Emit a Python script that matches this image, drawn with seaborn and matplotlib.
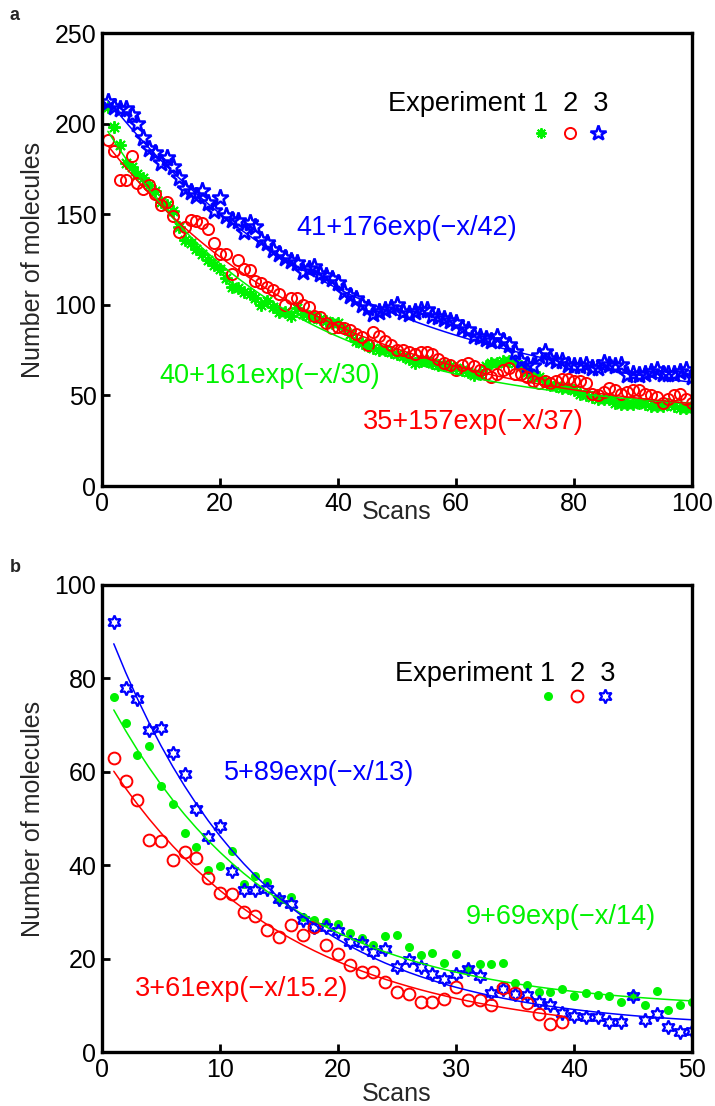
import numpy as np
import pandas as pd
import matplotlib
matplotlib.use("Agg")
import matplotlib.pyplot as plt
import seaborn as sns
from matplotlib.lines import Line2D

# ---------------- data ----------------
scans_a = list(range(1, 101))
exp1_a = [209, 198, 188, 178, 176, 172, 170, 166, 163, 157, 155, 152, 143, 136, 134, 131, 128, 125, 122, 120,
          115, 110, 109, 107, 106, 104, 100, 102, 99, 96, 96, 94, 98, 95, 94, 93, 92, 91, 90, 90,
          87, 84, 80, 79, 77, 76, 75, 75, 74, 73, 72, 70, 68, 69, 69, 68, 67, 67, 66, 65,
          64, 63, 61, 62, 66, 68, 68, 69, 69, 68, 66, 63, 60, 60, 58, 56, 55, 54, 54, 53,
          51, 50, 49, 48, 48, 48, 46, 45, 45, 45, 46, 45, 44, 44, 44, 45, 44, 43, 43, 43]
exp2_a = [191, 185, 169, 169, 182, 167, 164, 166, 161, 155, 157, 149, 140, 143, 147, 146, 145, 142, 134, 128,
          128, 117, 125, 120, 119, 113, 112, 110, 108, 106, 100, 104, 104, 100, 99, 94, 93, 90, 87, 88,
          87, 86, 84, 82, 78, 85, 83, 80, 78, 75, 75, 74, 73, 74, 74, 73, 70, 68, 67, 64,
          67, 68, 66, 64, 62, 60, 62, 64, 65, 62, 62, 60, 58, 57, 58, 57, 58, 59, 59, 58,
          58, 57, 51, 50, 52, 54, 53, 51, 52, 53, 53, 51, 50, 49, 46, 48, 50, 51, 48, 46]
exp3_a = [212, 209, 208, 208, 205, 200, 192, 186, 184, 178, 181, 176, 170, 164, 162, 160, 163, 156, 152, 159,
          149, 147, 146, 140, 145, 143, 136, 134, 130, 128, 126, 124, 123, 118, 120, 121, 117, 116, 114, 112,
          107, 105, 103, 100, 98, 95, 96, 97, 98, 100, 96, 95, 96, 97, 97, 94, 93, 92, 91, 90,
          87, 86, 83, 82, 81, 80, 82, 80, 78, 74, 69, 67, 66, 72, 74, 70, 69, 69, 67, 66,
          66, 67, 65, 65, 68, 67, 66, 67, 61, 62, 61, 62, 63, 64, 62, 62, 62, 63, 64, 60]

scans_b = list(range(1, 51))
scans_b_red = list(range(1, 40))
exp1_b = [76, 70.5, 63.5, 65.5, 57, 53, 46.8, 44, 38.9, 39.8, 43, 36, 37.7, 36.5, 32.5, 33.2, 29, 28.3, 27.8, 27.4,
          25.5, 24.4, 23, 24.8, 25.1, 22.4, 20.8, 21.3, 19.1, 21, 17.8, 18.8, 18.8, 19, 14.7, 14.3, 12.9, 12.8, 13.4, 12,
          12.6, 12.3, 12, 10.8, 12.3, 10, 13.1, 8.9, 10, 10.6]
exp2_b = [62.9, 58.1, 54, 45.4, 45.1, 41.1, 42.9, 41.5, 37.2, 34.1, 33.8, 30, 29.1, 26.1, 24.7, 27.2, 25.1, 26.7, 22.9, 21,
          18.6, 17.2, 17.2, 15, 12.8, 12.4, 10.8, 10.8, 11.3, 13.9, 11.1, 11.1, 10, 13.6, 12.6, 10.4, 8.1, 6.1, 6.5]
exp3_b = [92, 77.9, 75.5, 69, 69.3, 64, 59.5, 52, 46, 48.5, 38.8, 34.7, 34.6, 34.8, 32.7, 31.6, 28.3, 26.8, 26.7, 25.9,
          23.5, 23.3, 21.5, 22, 18.2, 19.7, 18.3, 16.7, 15.6, 16.7, 17.7, 16.3, 12.7, 13.4, 12.4, 12.2, 10.8, 10, 8.3, 7.7,
          7.6, 7.6, 6.5, 6.5, 12, 6.8, 8.1, 5.3, 4.3, 4.6]

# fit parameters (offset, amplitude, decay) as printed on the chart
fit_a = {"1": (40, 161, 30), "2": (35, 157, 37), "3": (41, 176, 42)}
fit_b = {"1": (9, 69, 14), "2": (3, 61, 15.2), "3": (5, 89, 13)}
fit_labels_a = {"1": "40+161exp(\u2212x/30)", "2": "35+157exp(\u2212x/37)", "3": "41+176exp(\u2212x/42)"}
fit_labels_b = {"1": "9+69exp(\u2212x/14)", "2": "3+61exp(\u2212x/15.2)", "3": "5+89exp(\u2212x/13)"}
legend_text = "Experiment 1  2  3"

colors = {"1": (0, 0.95, 0), "2": (1, 0, 0), "3": (0, 0, 1)}

hexagram = (6, 1, 0)

# ---------------- style ----------------
sns.set_theme(style="white")
plt.rcParams["font.family"] = ["Liberation Sans", "DejaVu Sans"]
FS = 18      # ticks / axis labels
FT = 19.5    # annotations

fig = plt.figure(figsize=(7.15, 11.06), dpi=100)
axa = fig.add_axes([102 / 715, 1 - 486 / 1106, 590 / 715, 453 / 1106])
axb = fig.add_axes([102 / 715, 1 - 1052 / 1106, 590 / 715, 467 / 1106])


def fitcurve(x, p):
    x = np.asarray(x, dtype=float)
    return p[0] + p[1] * np.exp(-x / p[2])


def pts(ax, x, y, **kw):
    df = pd.DataFrame({"x": x, "y": y})
    sns.lineplot(data=df, x="x", y="y", ax=ax, estimator=None, sort=False,
                 linestyle="", **kw)


def line(ax, x, y, c):
    df = pd.DataFrame({"x": x, "y": y})
    sns.lineplot(data=df, x="x", y="y", ax=ax, estimator=None, sort=False,
                 color=c, linewidth=1.1)


# ---- panel a ----
mk_a = {
    "1": dict(marker=(8, 2, 0), markersize=9, markeredgewidth=1.4, markeredgecolor=colors["1"], color=colors["1"]),
    "2": dict(marker="o", markersize=8, markeredgewidth=1.4, markerfacecolor="none", markeredgecolor=colors["2"], color=colors["2"]),
    "3": dict(marker="*", markersize=12.5, markeredgewidth=1.8, markerfacecolor="none", markeredgecolor=colors["3"], color=colors["3"]),
}
pts(axa, scans_a, exp1_a, **mk_a["1"])
pts(axa, scans_a, exp3_a, **mk_a["3"])
pts(axa, scans_a, exp2_a, **mk_a["2"])
for k in ["1", "2", "3"]:
    line(axa, scans_a, fitcurve(scans_a, fit_a[k]), colors[k])

axa.text(32.9, 142.4, fit_labels_a["3"], color=colors["3"], fontsize=FT, va="center", ha="left")
axa.text(9.8, 60.7, fit_labels_a["1"], color=colors["1"], fontsize=FT, va="center", ha="left")
axa.text(44.2, 35.3, fit_labels_a["2"], color=colors["2"], fontsize=FT, va="center", ha="left")
axa.text(48.5, 210.8, legend_text, color="black", fontsize=FT, va="center", ha="left")

axa.set_xlim(0, 100)
axa.set_ylim(0, 250)
axa.set_xticks([0, 20, 40, 60, 80, 100])
axa.set_yticks([0, 50, 100, 150, 200, 250])

# ---- panel b ----
mk_b = {
    "1": dict(marker="o", markersize=6.5, markeredgewidth=0, markerfacecolor=colors["1"], color=colors["1"]),
    "2": dict(marker="o", markersize=8.5, markeredgewidth=1.4, markerfacecolor="none", markeredgecolor=colors["2"], color=colors["2"]),
    "3": dict(marker=hexagram, markersize=10, markeredgewidth=1.6, markerfacecolor="none", markeredgecolor=colors["3"], color=colors["3"]),
}
pts(axb, scans_b, exp1_b, **mk_b["1"])
pts(axb, scans_b, exp3_b, **mk_b["3"])
pts(axb, scans_b_red, exp2_b, **mk_b["2"])
line(axb, scans_b, fitcurve(scans_b, fit_b["1"]), colors["1"])
line(axb, scans_b_red, fitcurve(scans_b_red, fit_b["2"]), colors["2"])
line(axb, scans_b, fitcurve(scans_b, fit_b["3"]), colors["3"])

axb.text(10.3, 59.7, fit_labels_b["3"], color=colors["3"], fontsize=FT, va="center", ha="left")
axb.text(30.8, 28.9, fit_labels_b["1"], color=colors["1"], fontsize=FT, va="center", ha="left")
axb.text(2.8, 13.5, fit_labels_b["2"], color=colors["2"], fontsize=FT, va="center", ha="left")
axb.text(24.8, 80.9, legend_text, color="black", fontsize=FT, va="center", ha="left")

axb.set_xlim(0, 50)
axb.set_ylim(0, 100)
axb.set_xticks([0, 10, 20, 30, 40, 50])
axb.set_yticks([0, 20, 40, 60, 80, 100])


# legends: markers under the numbers
def marker_legend(ax, mk, anchor, sizes):
    handles = []
    for k in ["1", "2", "3"]:
        d = dict(mk[k])
        d["markersize"] = sizes[k]
        handles.append(Line2D([], [], linestyle="", **d))
    leg = ax.legend(handles, ["", "", ""], ncol=3, loc="center", bbox_to_anchor=anchor,
                    frameon=False, handlelength=1.0, handletextpad=0.0, columnspacing=1.05,
                    fontsize=10, borderpad=0, borderaxespad=0)
    return leg


marker_legend(axa, mk_a, (0.793, 0.777), {"1": 7.5, "2": 8, "3": 11.5})
marker_legend(axb, mk_b, (0.805, 0.760), {"1": 6.5, "2": 8.5, "3": 10})

for ax, lp in ((axa, -11), (axb, 0.5)):
    ax.set_xlabel("Scans", fontsize=FS, labelpad=lp)
    ax.set_ylabel("Number of molecules", fontsize=FS, labelpad=7)
    ax.tick_params(axis="both", which="both", direction="in", length=6, width=2,
                   labelsize=FS, bottom=True, left=True, top=False, right=False, pad=4, colors="black")
    for s in ax.spines.values():
        s.set_linewidth(2.4)
        s.set_color("black")
        s.set_visible(True)
    ax.grid(False)
    ax.set_facecolor("white")

fig.text(15 / 715, 1 - 16 / 1106, "a", fontsize=13, fontweight="bold", ha="center", va="center")
fig.text(15 / 715, 1 - 567 / 1106, "b", fontsize=13, fontweight="bold", ha="center", va="center")

fig.savefig("out.png", dpi=100, facecolor="white")
